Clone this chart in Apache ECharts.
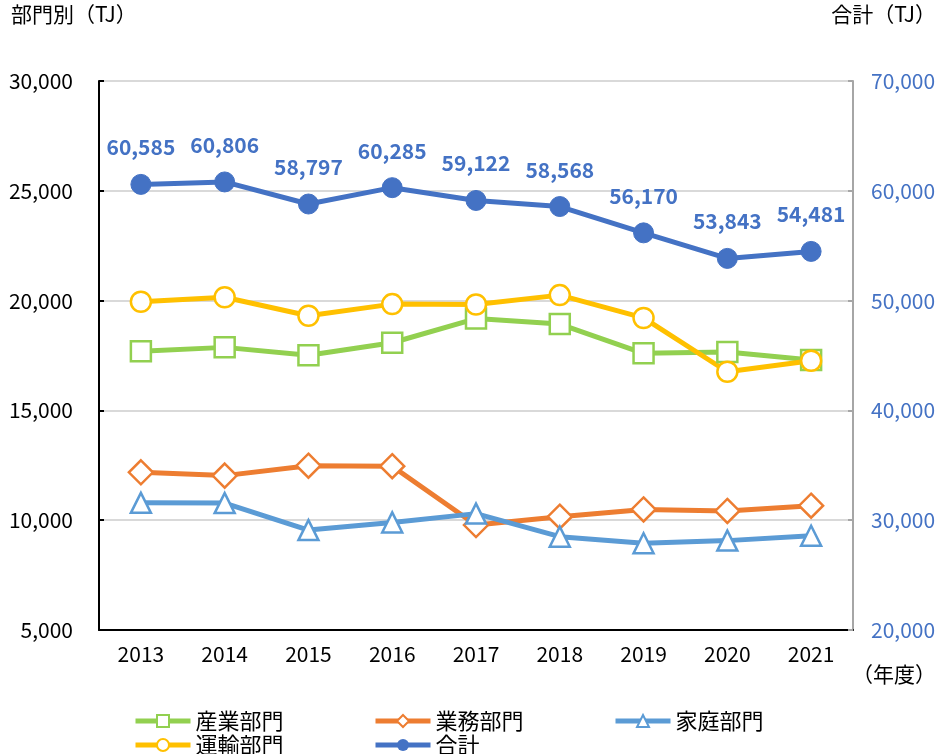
<!DOCTYPE html>
<html>
<head>
<meta charset="utf-8">
<script src="https://cdn.jsdelivr.net/npm/echarts@6/dist/echarts.min.js"></script>
<style>
  html, body { margin: 0; padding: 0; background: #fff; }
  #chart { width: 939px; height: 754px; }
</style>
</head>
<body>
<div id="chart"></div>
<script>
// 年度
const years = ['2013', '2014', '2015', '2016', '2017', '2018', '2019', '2020', '2021'];
// 部門別（TJ）
const sangyo = [17690, 17870, 17510, 18080, 19180, 18930, 17600, 17660, 17300]; // 産業部門
const gyomu = [12180, 12030, 12480, 12460, 9780, 10160, 10490, 10420, 10660];  // 業務部門
const katei = [10790, 10780, 9550, 9900, 10300, 9250, 8950, 9070, 9290];        // 家庭部門
const unyu = [19950, 20150, 19310, 19840, 19820, 20250, 19210, 16760, 17260];   // 運輸部門
// 合計（TJ）
const total = [60585, 60806, 58797, 60285, 59122, 58568, 56170, 53843, 54481];

const FONT = '"Noto Sans CJK JP", "Noto Sans", sans-serif';

const chart = echarts.init(document.getElementById('chart'));

function fmt(v) {
  return v.toLocaleString('en-US');
}

function sectorSeries(name, data, color, symbol, size) {
  return {
    name: name,
    type: 'line',
    data: data,
    symbol: symbol,
    symbolSize: size,
    lineStyle: { color: color, width: 5 },
    itemStyle: { color: '#fff', borderColor: color, borderWidth: 2.5 },
    z: 3
  };
}

function legendItem(name, left, top) {
  return {
    data: [name],
    left: left,
    top: top,
    itemWidth: 55,
    itemHeight: 15,
    itemGap: 0,
    lineStyle: { width: 5 },
    textStyle: { fontFamily: FONT, fontSize: 22, color: '#000' }
  };
}

const option = {
  backgroundColor: '#fff',
  animation: false,
  textStyle: { fontFamily: FONT },
  grid: { left: 99, right: 86, top: 81, bottom: 124 },
  legend: [
    legendItem('産業部門', 128, 705),
    legendItem('業務部門', 368, 705),
    legendItem('家庭部門', 608, 705),
    legendItem('運輸部門', 128, 729),
    legendItem('合計', 368, 729)
  ],
  graphic: [
    { type: 'text', left: 11, top: 4, style: { text: '部門別（TJ）', fontFamily: FONT, fontSize: 21, fill: '#000' } },
    { type: 'text', right: 3, top: 4, style: { text: '合計（TJ）', fontFamily: FONT, fontSize: 21, fill: '#000' } },
    { type: 'text', right: 3, top: 664, style: { text: '（年度）', fontFamily: FONT, fontSize: 21, fill: '#000' } }
  ],
  xAxis: {
    type: 'category',
    data: years,
    boundaryGap: true,
    axisLine: { lineStyle: { color: '#000', width: 2 } },
    axisTick: { show: false },
    axisLabel: { color: '#000', fontSize: 21, fontFamily: FONT, margin: 14 }
  },
  yAxis: [
    {
      type: 'value',
      min: 5000,
      max: 30000,
      interval: 5000,
      position: 'left',
      axisLine: { show: true, lineStyle: { color: '#000', width: 2 } },
      axisTick: { show: true, inside: true, length: 5, lineStyle: { color: '#000', width: 2 } },
      axisLabel: { color: '#000', fontSize: 21, fontFamily: FONT, margin: 26, formatter: fmt },
      splitLine: { lineStyle: { color: '#D9D9D9', width: 2 } }
    },
    {
      type: 'value',
      min: 20000,
      max: 70000,
      interval: 10000,
      position: 'right',
      axisLine: { show: true, lineStyle: { color: '#A6A6A6', width: 2 } },
      axisTick: { show: true, inside: true, length: 5, lineStyle: { color: '#A6A6A6', width: 2 } },
      axisLabel: { color: '#4472C4', fontSize: 21, fontFamily: FONT, margin: 18, formatter: fmt },
      splitLine: { show: false }
    }
  ],
  series: [
    sectorSeries('産業部門', sangyo, '#92D050', 'rect', 20),
    sectorSeries('業務部門', gyomu, '#ED7D31', 'diamond', 24),
    sectorSeries('家庭部門', katei, '#5B9BD5', 'triangle', 20),
    sectorSeries('運輸部門', unyu, '#FFC000', 'circle', 20),
    {
      name: '合計',
      type: 'line',
      yAxisIndex: 1,
      data: total,
      symbol: 'circle',
      symbolSize: 20,
      lineStyle: { color: '#4472C4', width: 5 },
      itemStyle: { color: '#4472C4', borderColor: '#4472C4' },
      label: {
        show: true,
        position: 'top',
        distance: 16,
        color: '#4472C4',
        fontWeight: 'bold',
        fontSize: 21,
        fontFamily: FONT,
        formatter: function (p) { return fmt(p.value); }
      },
      z: 4
    }
  ]
};

chart.setOption(option);
</script>
</body>
</html>
